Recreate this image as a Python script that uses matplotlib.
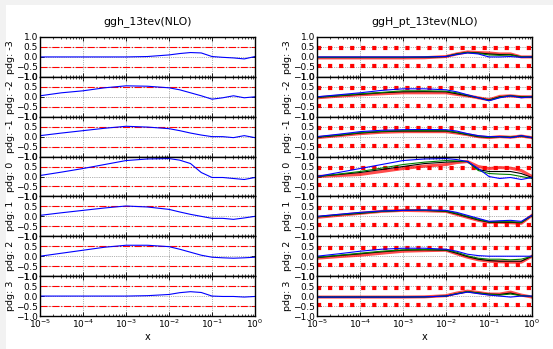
import matplotlib
matplotlib.use('Agg')
import matplotlib.pyplot as plt
import numpy as np
from matplotlib.patches import Rectangle

# log10(x) sample points
logx = [-5, -4.5, -4, -3.5, -3, -2.5, -2, -1.75, -1.5, -1.25, -1, -0.75, -0.5, -0.25, 0]
pdgs = [-3, -2, -1, 0, 1, 2, 3]

# left panel: ggh_13tev(NLO), one curve per pdg
left_curves = [
    [0, 0, 0, 0, 0, 0.02, 0.1, 0.17, 0.22, 0.2, 0.02, -0.02, -0.05, -0.1, 0.02],
    [0.05, 0.2, 0.3, 0.45, 0.55, 0.53, 0.45, 0.35, 0.2, 0.05, -0.12, -0.05, 0.05, -0.05, 0.0],
    [0.05, 0.18, 0.3, 0.42, 0.52, 0.48, 0.4, 0.3, 0.18, 0.08, 0.0, 0.0, -0.05, 0.05, -0.05],
    [0.05, 0.22, 0.4, 0.6, 0.8, 0.88, 0.9, 0.82, 0.65, 0.2, -0.05, -0.05, -0.1, -0.15, -0.05],
    [0.05, 0.18, 0.3, 0.42, 0.52, 0.47, 0.35, 0.22, 0.1, 0.0, -0.1, -0.1, -0.15, -0.08, 0.0],
    [0.0, 0.15, 0.3, 0.45, 0.55, 0.55, 0.48, 0.35, 0.2, 0.05, -0.05, -0.08, -0.1, -0.08, -0.05],
    [0, 0, 0, 0, 0, 0.02, 0.08, 0.17, 0.22, 0.18, 0.0, -0.02, -0.02, -0.05, -0.02],
]

# right panel: ggH_pt_13tev(NLO), a bundle of curves per pdg
right_blue = [
    [0, 0, 0, 0, 0, 0, 0.02, 0.12, 0.2, 0.15, 0.0, 0.0, 0.02, -0.02, 0.0],
    [0.0, 0.1, 0.2, 0.32, 0.4, 0.4, 0.35, 0.25, 0.1, -0.05, -0.2, -0.05, 0.05, -0.05, 0.0],
    [0.0, 0.12, 0.25, 0.32, 0.35, 0.36, 0.35, 0.28, 0.15, 0.05, 0.0, 0.0, -0.05, 0.05, -0.05],
    [0.0, 0.2, 0.4, 0.6, 0.8, 0.88, 0.9, 0.85, 0.75, 0.4, 0.0, -0.1, -0.05, -0.15, -0.05],
    [0.0, 0.1, 0.2, 0.27, 0.3, 0.32, 0.3, 0.2, 0.05, -0.1, -0.25, -0.22, -0.2, -0.25, 0.05],
    [0.0, 0.12, 0.25, 0.35, 0.4, 0.4, 0.35, 0.25, 0.1, 0.03, 0.0, 0.0, 0.0, 0.0, 0.0],
    [-0.05, -0.05, -0.05, -0.05, -0.05, -0.04, 0.0, 0.1, 0.2, 0.12, 0.05, 0.0, -0.05, 0.0, 0.0],
]
right_green = [
    [-0.02, -0.02, -0.02, -0.02, -0.02, -0.01, 0.02, 0.14, 0.22, 0.18, 0.1, 0.08, 0.1, 0.0, 0.0],
    [-0.02, 0.06, 0.15, 0.22, 0.3, 0.3, 0.28, 0.2, 0.08, -0.05, -0.18, -0.02, 0.05, -0.02, 0.0],
    [-0.02, 0.08, 0.2, 0.27, 0.3, 0.3, 0.3, 0.22, 0.12, 0.02, -0.03, 0.0, -0.03, 0.03, -0.05],
    [0.0, 0.12, 0.25, 0.42, 0.6, 0.72, 0.8, 0.78, 0.75, 0.3, 0.15, 0.12, 0.1, 0.0, -0.1],
    [-0.02, 0.08, 0.17, 0.25, 0.3, 0.3, 0.27, 0.15, 0.0, -0.15, -0.28, -0.27, -0.27, -0.3, 0.05],
    [-0.05, 0.05, 0.15, 0.25, 0.32, 0.33, 0.32, 0.2, 0.02, -0.1, -0.15, -0.15, -0.18, -0.15, 0.0],
    [-0.05, -0.05, -0.05, -0.05, -0.05, -0.04, 0.0, 0.12, 0.22, 0.15, 0.08, 0.05, 0.1, 0.02, -0.02],
]
right_black = [
    [-0.03, -0.03, -0.03, -0.03, -0.03, -0.02, 0.02, 0.15, 0.23, 0.2, 0.15, 0.12, 0.12, 0.0, 0.0],
    [-0.03, 0.05, 0.12, 0.2, 0.25, 0.26, 0.25, 0.15, 0.05, -0.05, -0.16, 0.0, 0.05, 0.0, 0.0],
    [-0.03, 0.06, 0.18, 0.25, 0.28, 0.28, 0.28, 0.2, 0.1, 0.0, -0.04, 0.0, -0.03, 0.03, -0.05],
    [0.0, 0.1, 0.2, 0.35, 0.5, 0.65, 0.72, 0.75, 0.75, 0.35, 0.25, 0.25, 0.25, 0.15, -0.05],
    [-0.03, 0.07, 0.15, 0.25, 0.3, 0.3, 0.25, 0.12, -0.03, -0.18, -0.3, -0.3, -0.3, -0.32, 0.05],
    [-0.07, 0.03, 0.12, 0.22, 0.3, 0.32, 0.3, 0.15, -0.02, -0.15, -0.22, -0.25, -0.25, -0.25, 0.0],
    [-0.05, -0.05, -0.05, -0.05, -0.05, -0.04, 0.0, 0.12, 0.22, 0.16, 0.1, 0.08, 0.15, 0.03, -0.03],
]
right_red = [
    [-0.05, -0.05, -0.05, -0.05, -0.05, -0.04, 0.02, 0.15, 0.25, 0.22, 0.2, 0.15, 0.15, 0.0, 0.0],
    [-0.05, 0.03, 0.1, 0.15, 0.2, 0.2, 0.2, 0.12, 0.05, -0.05, -0.15, 0.02, 0.05, 0.0, 0.0],
    [-0.05, 0.05, 0.15, 0.22, 0.25, 0.25, 0.25, 0.18, 0.1, 0.0, -0.05, 0.0, -0.03, 0.03, -0.05],
    [0.0, 0.05, 0.1, 0.25, 0.4, 0.52, 0.6, 0.7, 0.75, 0.5, 0.4, 0.45, 0.42, 0.3, 0.0],
    [-0.05, 0.05, 0.15, 0.25, 0.3, 0.28, 0.25, 0.1, -0.05, -0.2, -0.3, -0.3, -0.32, -0.35, 0.05],
    [-0.1, -0.02, 0.05, 0.15, 0.25, 0.28, 0.3, 0.12, -0.05, -0.18, -0.25, -0.28, -0.3, -0.3, 0.0],
    [-0.05, -0.05, -0.05, -0.05, -0.05, -0.04, 0.02, 0.15, 0.25, 0.18, 0.1, 0.1, 0.2, 0.05, -0.05],
]

titles = ['ggh_13tev(NLO)', 'ggH_pt_13tev(NLO)']

plt.rcParams['font.size'] = 7
plt.rcParams['xtick.direction'] = 'in'
plt.rcParams['ytick.direction'] = 'in'
plt.rcParams['xtick.top'] = True
plt.rcParams['ytick.right'] = True

fig = plt.figure(figsize=(5.53, 3.49), dpi=100, facecolor='#f2f2f2')
fig.patches.append(Rectangle((6 / 553, 0), 1, 1 - 5 / 349, transform=fig.transFigure,
                             facecolor='white', edgecolor='none', zorder=-1))

W, H = 553., 349.
top, bottom = 37., 316.
rowh = (bottom - top) / 7
lefts = [40., 317.]
width = 215.

x = 10.0 ** np.array(logx)

for col in range(2):
    for i, p in enumerate(pdgs):
        ax = fig.add_axes([lefts[col] / W, 1 - (top + (i + 1) * rowh) / H, width / W, rowh / H])
        ax.set_xscale('log')
        ax.set_xlim(1e-5, 1)
        ax.set_ylim(-1, 1)
        ax.set_yticks([-1, -0.5, 0, 0.5, 1])
        ax.set_yticklabels(['\u22121.0', '\u22120.5', '0.0', '0.5', '1.0'])
        ax.grid(True, color='k', linestyle=':', linewidth=0.5, alpha=0.6)
        ax.tick_params(labelsize=6.5, length=3, width=0.6, pad=1.5)
        ax.tick_params(which='minor', length=1.5, width=0.5)
        ax.set_ylabel('pdg: %d' % p, fontsize=6.8, labelpad=1)
        for s in ax.spines.values():
            s.set_linewidth(1.0)
        if col == 0:
            ax.axhline(0.5, color='r', linestyle='-.', linewidth=0.8)
            ax.axhline(-0.5, color='r', linestyle='-.', linewidth=0.8)
            ax.plot(x, left_curves[i], color='b', linewidth=0.8)
        else:
            ax.axhline(0.43, color='r', linestyle=':', linewidth=3)
            ax.axhline(-0.45, color='r', linestyle=':', linewidth=3)
            ax.plot(x, right_red[i], color='r', linewidth=2.2, alpha=0.7)
            ax.plot(x, right_black[i], color='k', linewidth=0.8)
            ax.plot(x, right_green[i], color='g', linewidth=0.8)
            ax.plot(x, right_blue[i], color='b', linewidth=0.8)
        if i == 0:
            ax.set_title(titles[col], fontsize=7.8, pad=9)
        if i < 6:
            ax.tick_params(labelbottom=False)
        else:
            ax.set_xticks([1e-5, 1e-4, 1e-3, 1e-2, 1e-1, 1])
            ax.set_xticklabels([r'$10^{-5}$', r'$10^{-4}$', r'$10^{-3}$', r'$10^{-2}$', r'$10^{-1}$', r'$10^{0}$'])
            ax.set_xlabel('x', fontsize=7, labelpad=1)

plt.savefig('out.png', dpi=100, facecolor=fig.get_facecolor())
